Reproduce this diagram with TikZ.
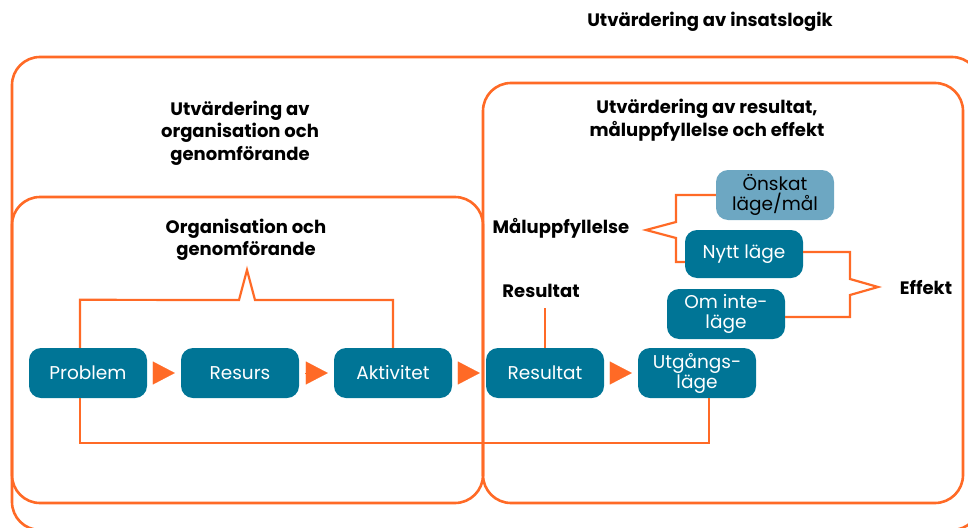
\documentclass[tikz,border=0pt]{standalone}
\usepackage{fontspec}
\setmainfont{Poppins}
\usetikzlibrary{arrows.meta,positioning}
\definecolor{Deep}{HTML}{007596}
\definecolor{Sky}{HTML}{6DA7C2}
\definecolor{Flame}{HTML}{FF6A26}
\tikzset{
  frame/.style={draw=Flame,line width=2.6pt,rounded corners=28pt},
  stepbox/.style={fill=Deep,rounded corners=12pt,minimum width=118pt,minimum height=50pt,align=center,text=white,font=\fontsize{18.5}{20}\selectfont,inner sep=2pt},
  goalbox/.style={stepbox,fill=Sky,text=black},
  link/.style={draw=Flame,line width=2.2pt},
  tri/.style={-{Triangle[length=22pt,width=23pt]},draw=Flame,fill=Flame,line width=0.1pt,shorten <=6pt,shorten >=6pt},
  heading/.style={align=center,font=\fontsize{18}{22.5}\selectfont\bfseries,text=black}
}
\begin{document}
\begin{tikzpicture}[x=1pt,y=-1pt]
  \useasboundingbox (0,0) rectangle (968,527);
  % frames
  \draw[frame] (12,57) rectangle (980,530);
  \draw[frame] (12,197) rectangle (483,503);
  \draw[frame] (483,83) rectangle (963,503);
  % headings
  \node[heading] (title) at (710,22) {Utvärdering av insatslogik};
  \node[heading] (orghead) at (240,133) {Utvärdering av\\organisation och\\genomförande};
  \node[heading] (reshead) at (707,120) {Utvärdering av resultat,\\måluppfyllelse och effekt};
  \node[heading] (orglbl) at (246,240) {Organisation och\\genomförande};
  \node[heading] (resultatlbl) at (541,291) {Resultat};
  \node[heading] (malbl) at (561,228) {Måluppfyllelse};
  \node[heading] (effektlbl) at (926,288) {Effekt};
  % chain
  \node[stepbox] (problem) at (88,373) {Problem};
  \node[stepbox] (resurs) at (240,373) {Resurs};
  \node[stepbox] (aktivitet) at (393,373) {Aktivitet};
  \node[stepbox] (resultat) at (545,373) {Resultat};
  \node[stepbox] (utgang) at (697,373) {Utgångs-\\läge};
  \node[goalbox] (onskat) at (775,195) {Önskat\\läge/mål};
  \node[stepbox,minimum height=48pt] (nytt) at (744,254) {Nytt läge};
  \node[stepbox] (ominte) at (726,314) {Om inte-\\läge};
  \draw[tri] (problem) -- (resurs);
  \draw[tri] (resurs) -- (aktivitet);
  \draw[tri] (aktivitet) -- (resultat);
  \draw[tri] (resultat) -- (utgang);
  % brackets
  \draw[link] ([xshift=-8pt]problem.north) -- ++(0,-48) -- (239,300) -- (247,270) -- (255,300)
    -- (aktivitet.north |- 0,300) -- (aktivitet.north);
  \draw[link] ([xshift=-8pt]problem.south) -- ++(0,45) -| ([xshift=12pt]utgang.south);
  \draw[link] (545,308) -- (resultat.north);
  \draw[link] (onskat.west) -- (676,195) -- (676,222) -- (646,230) -- (676,238) -- (676,262)
    -- ([yshift=-8pt]nytt.west);
  \draw[link] ([yshift=2pt]nytt.east) -- (850,252) -- (850,279) -- (878,287) -- (850,295)
    -- (850,317) -- ([yshift=-3pt]ominte.east);
\end{tikzpicture}
\end{document}
